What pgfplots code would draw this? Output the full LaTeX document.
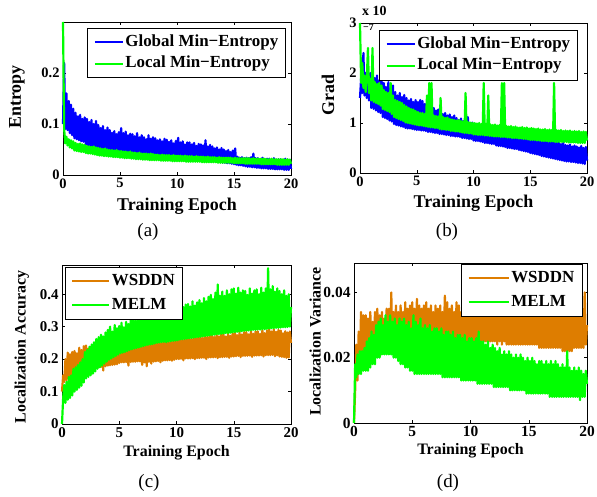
\documentclass[border=0pt]{standalone}
\usepackage{fontspec}
\setmainfont{Liberation Serif}
\usepackage{pgfplots}
\usepackage{pgfplotstable}
\pgfplotsset{compat=1.18}
\definecolor{morange}{RGB}{222,125,0}
\definecolor{mgreen}{RGB}{0,255,0}
\definecolor{mblue}{RGB}{0,0,255}

\pgfplotstableread[row sep=\\]{
b g\\
0.100 0.300\\ 0.220 0.090\\ 0.090 0.062\\ 0.160 0.075\\ 0.088 0.058\\ 0.145 0.070\\ 0.082 0.054\\ 0.138 0.068\\ 0.078 0.052\\ 0.130 0.066\\
0.072 0.048\\ 0.122 0.063\\ 0.070 0.047\\ 0.115 0.061\\ 0.068 0.046\\ 0.118 0.062\\ 0.066 0.045\\ 0.110 0.060\\ 0.065 0.045\\ 0.113 0.059\\
0.060 0.043\\ 0.110 0.057\\ 0.058 0.042\\ 0.104 0.056\\ 0.057 0.042\\ 0.108 0.055\\ 0.056 0.041\\ 0.100 0.056\\ 0.055 0.040\\ 0.106 0.054\\
0.053 0.039\\ 0.098 0.053\\ 0.052 0.038\\ 0.092 0.052\\ 0.051 0.038\\ 0.096 0.051\\ 0.050 0.037\\ 0.088 0.052\\ 0.050 0.037\\ 0.093 0.050\\
0.048 0.036\\ 0.088 0.049\\ 0.047 0.036\\ 0.083 0.049\\ 0.047 0.035\\ 0.086 0.048\\ 0.046 0.035\\ 0.080 0.049\\ 0.046 0.035\\ 0.084 0.047\\
0.044 0.034\\ 0.092 0.047\\ 0.043 0.034\\ 0.082 0.046\\ 0.043 0.033\\ 0.085 0.046\\ 0.042 0.033\\ 0.078 0.045\\ 0.042 0.033\\ 0.081 0.046\\
0.041 0.032\\ 0.080 0.044\\ 0.040 0.032\\ 0.076 0.044\\ 0.040 0.031\\ 0.082 0.043\\ 0.039 0.031\\ 0.074 0.044\\ 0.039 0.031\\ 0.078 0.042\\
0.038 0.030\\ 0.074 0.042\\ 0.038 0.030\\ 0.070 0.042\\ 0.037 0.030\\ 0.078 0.041\\ 0.037 0.029\\ 0.071 0.042\\ 0.037 0.029\\ 0.074 0.041\\
0.036 0.029\\ 0.072 0.040\\ 0.036 0.029\\ 0.068 0.040\\ 0.035 0.029\\ 0.070 0.039\\ 0.035 0.028\\ 0.066 0.040\\ 0.035 0.028\\ 0.071 0.039\\
0.034 0.028\\ 0.069 0.039\\ 0.034 0.028\\ 0.065 0.039\\ 0.034 0.028\\ 0.068 0.038\\ 0.033 0.027\\ 0.062 0.039\\ 0.033 0.027\\ 0.067 0.038\\
0.032 0.027\\ 0.073 0.038\\ 0.032 0.027\\ 0.064 0.038\\ 0.032 0.027\\ 0.066 0.037\\ 0.031 0.027\\ 0.060 0.038\\ 0.031 0.026\\ 0.064 0.037\\
0.030 0.026\\ 0.064 0.037\\ 0.030 0.026\\ 0.060 0.037\\ 0.030 0.026\\ 0.063 0.036\\ 0.029 0.026\\ 0.057 0.037\\ 0.029 0.026\\ 0.061 0.036\\
0.028 0.026\\ 0.060 0.036\\ 0.028 0.025\\ 0.058 0.036\\ 0.028 0.025\\ 0.068 0.035\\ 0.027 0.025\\ 0.056 0.036\\ 0.027 0.025\\ 0.059 0.035\\
0.026 0.025\\ 0.056 0.035\\ 0.026 0.025\\ 0.052 0.035\\ 0.026 0.025\\ 0.054 0.034\\ 0.025 0.024\\ 0.050 0.035\\ 0.025 0.024\\ 0.053 0.034\\
0.024 0.024\\ 0.050 0.034\\ 0.024 0.024\\ 0.047 0.034\\ 0.023 0.024\\ 0.049 0.034\\ 0.023 0.024\\ 0.045 0.034\\ 0.022 0.024\\ 0.048 0.033\\
0.021 0.023\\ 0.052 0.034\\ 0.020 0.023\\ 0.036 0.033\\ 0.019 0.023\\ 0.034 0.033\\ 0.019 0.023\\ 0.035 0.033\\ 0.018 0.023\\ 0.033 0.033\\
0.017 0.022\\ 0.034 0.033\\ 0.016 0.022\\ 0.033 0.033\\ 0.016 0.022\\ 0.035 0.032\\ 0.015 0.022\\ 0.042 0.033\\ 0.015 0.022\\ 0.033 0.032\\
0.014 0.022\\ 0.033 0.032\\ 0.014 0.022\\ 0.031 0.032\\ 0.013 0.021\\ 0.034 0.032\\ 0.013 0.021\\ 0.030 0.032\\ 0.013 0.021\\ 0.032 0.031\\
0.012 0.021\\ 0.032 0.031\\ 0.012 0.021\\ 0.030 0.032\\ 0.012 0.021\\ 0.033 0.031\\ 0.011 0.021\\ 0.030 0.031\\ 0.011 0.020\\ 0.031 0.031\\
0.011 0.020\\ 0.031 0.031\\ 0.011 0.020\\ 0.029 0.031\\ 0.010 0.020\\ 0.032 0.030\\ 0.010 0.020\\ 0.029 0.031\\ 0.010 0.020\\ 0.030 0.030\\
0.012 0.022\\
}\tA

\pgfplotstableread[row sep=\\]{
b g\\
1.50 3.00\\ 1.90 1.80\\ 1.60 2.20\\ 2.40 1.70\\ 1.55 1.95\\ 2.00 1.62\\ 1.50 1.90\\ 1.95 2.50\\ 1.45 1.60\\ 2.00 1.88\\
1.30 1.45\\ 1.98 2.50\\ 1.28 1.42\\ 1.90 1.82\\ 1.25 1.40\\ 1.95 1.78\\ 1.22 1.38\\ 1.85 1.80\\ 1.20 1.35\\ 1.88 1.75\\
1.12 1.28\\ 1.80 1.66\\ 1.10 1.26\\ 1.72 1.62\\ 1.08 1.24\\ 1.82 1.60\\ 1.05 1.22\\ 1.70 1.80\\ 1.03 1.18\\ 1.75 1.55\\
0.98 1.12\\ 1.62 1.46\\ 0.96 1.10\\ 1.55 1.44\\ 0.95 1.08\\ 1.60 1.42\\ 0.93 1.06\\ 1.52 1.40\\ 0.92 1.04\\ 1.56 1.36\\
0.90 1.01\\ 1.50 1.33\\ 0.89 1.00\\ 1.45 1.30\\ 0.89 0.99\\ 1.48 1.28\\ 0.88 0.98\\ 1.42 1.27\\ 0.87 0.97\\ 1.46 1.24\\
0.86 0.96\\ 1.42 1.22\\ 0.86 0.95\\ 1.46 1.20\\ 0.85 0.95\\ 1.44 1.20\\ 0.85 0.94\\ 1.38 1.18\\ 0.84 0.93\\ 1.40 1.55\\
0.82 0.92\\ 1.32 1.80\\ 0.82 0.91\\ 1.28 1.80\\ 0.81 0.91\\ 1.30 1.15\\ 0.80 0.90\\ 1.25 1.14\\ 0.80 0.90\\ 1.27 1.13\\
0.78 0.88\\ 1.22 1.50\\ 0.78 0.87\\ 1.18 1.12\\ 0.77 0.87\\ 1.20 1.10\\ 0.76 0.86\\ 1.15 1.11\\ 0.76 0.86\\ 1.17 1.08\\
0.74 0.84\\ 1.12 1.07\\ 0.74 0.84\\ 1.15 1.06\\ 0.73 0.83\\ 1.10 1.05\\ 0.73 0.83\\ 1.06 1.06\\ 0.72 0.82\\ 1.09 1.04\\
0.70 0.81\\ 1.04 1.03\\ 0.70 0.80\\ 1.02 1.60\\ 0.69 0.80\\ 1.12 1.02\\ 0.68 0.79\\ 1.00 1.01\\ 0.68 0.79\\ 1.01 1.00\\
0.65 0.77\\ 0.97 1.00\\ 0.64 0.77\\ 0.95 0.99\\ 0.64 0.76\\ 0.96 1.00\\ 0.63 0.76\\ 0.92 0.98\\ 0.62 0.76\\ 0.94 1.80\\
0.60 0.75\\ 0.91 0.98\\ 0.60 0.75\\ 0.89 1.55\\ 0.59 0.74\\ 0.90 0.97\\ 0.58 0.74\\ 0.87 0.96\\ 0.58 0.73\\ 0.89 0.97\\
0.55 0.73\\ 0.86 0.95\\ 0.54 0.73\\ 0.84 0.96\\ 0.54 0.72\\ 0.85 1.80\\ 0.53 0.72\\ 0.82 1.80\\ 0.52 0.72\\ 0.84 0.94\\
0.50 0.71\\ 0.81 0.93\\ 0.50 0.71\\ 0.79 0.94\\ 0.49 0.70\\ 0.80 0.92\\ 0.48 0.70\\ 0.77 0.93\\ 0.48 0.70\\ 0.79 0.91\\
0.46 0.69\\ 0.76 0.91\\ 0.45 0.69\\ 0.74 0.92\\ 0.44 0.68\\ 0.75 0.90\\ 0.43 0.68\\ 0.72 0.91\\ 0.42 0.67\\ 0.74 0.89\\
0.40 0.66\\ 0.71 0.90\\ 0.39 0.66\\ 0.69 0.89\\ 0.38 0.66\\ 0.70 0.88\\ 0.37 0.65\\ 0.66 0.89\\ 0.36 0.65\\ 0.69 0.87\\
0.34 0.64\\ 0.66 0.87\\ 0.33 0.64\\ 0.64 0.88\\ 0.32 0.64\\ 0.65 0.86\\ 0.31 0.63\\ 0.62 0.87\\ 0.30 0.63\\ 0.64 0.86\\
0.29 0.63\\ 0.61 1.80\\ 0.28 0.62\\ 0.60 0.86\\ 0.27 0.62\\ 0.62 0.85\\ 0.26 0.62\\ 0.58 0.86\\ 0.25 0.62\\ 0.60 0.84\\
0.24 0.62\\ 0.56 0.85\\ 0.23 0.62\\ 0.55 0.84\\ 0.23 0.61\\ 0.57 0.85\\ 0.22 0.61\\ 0.53 0.83\\ 0.22 0.61\\ 0.55 0.84\\
0.21 0.61\\ 0.53 0.83\\ 0.20 0.60\\ 0.51 0.84\\ 0.20 0.60\\ 0.54 0.82\\ 0.19 0.60\\ 0.50 0.83\\ 0.18 0.60\\ 0.52 0.82\\
0.25 0.65\\
}\tB

\pgfplotstableread[row sep=\\]{
o g\\
0.100 0.000\\ 0.150 0.080\\ 0.130 0.120\\ 0.200 0.065\\ 0.135 0.130\\ 0.220 0.075\\ 0.140 0.145\\ 0.215 0.080\\ 0.145 0.150\\ 0.222 0.088\\
0.150 0.170\\ 0.225 0.100\\ 0.152 0.175\\ 0.218 0.105\\ 0.155 0.182\\ 0.235 0.112\\ 0.158 0.190\\ 0.228 0.118\\ 0.160 0.200\\ 0.240 0.128\\
0.168 0.222\\ 0.242 0.140\\ 0.170 0.228\\ 0.232 0.145\\ 0.170 0.238\\ 0.238 0.150\\ 0.171 0.245\\ 0.230 0.155\\ 0.172 0.252\\ 0.236 0.162\\
0.174 0.262\\ 0.240 0.170\\ 0.175 0.268\\ 0.236 0.175\\ 0.176 0.275\\ 0.242 0.180\\ 0.165 0.270\\ 0.238 0.186\\ 0.178 0.282\\ 0.240 0.192\\
0.180 0.290\\ 0.245 0.198\\ 0.181 0.300\\ 0.240 0.202\\ 0.182 0.285\\ 0.248 0.206\\ 0.183 0.305\\ 0.242 0.210\\ 0.184 0.295\\ 0.246 0.214\\
0.188 0.302\\ 0.248 0.218\\ 0.190 0.312\\ 0.244 0.220\\ 0.190 0.298\\ 0.252 0.222\\ 0.191 0.315\\ 0.246 0.225\\ 0.180 0.308\\ 0.250 0.228\\
0.191 0.320\\ 0.250 0.230\\ 0.192 0.330\\ 0.245 0.232\\ 0.192 0.318\\ 0.252 0.234\\ 0.193 0.335\\ 0.247 0.236\\ 0.193 0.325\\ 0.251 0.238\\
0.182 0.340\\ 0.250 0.240\\ 0.190 0.345\\ 0.246 0.242\\ 0.178 0.332\\ 0.252 0.244\\ 0.192 0.350\\ 0.248 0.245\\ 0.186 0.338\\ 0.253 0.246\\
0.192 0.352\\ 0.254 0.248\\ 0.193 0.345\\ 0.248 0.250\\ 0.194 0.358\\ 0.256 0.251\\ 0.190 0.342\\ 0.250 0.252\\ 0.195 0.355\\ 0.255 0.253\\
0.196 0.360\\ 0.258 0.252\\ 0.196 0.348\\ 0.252 0.254\\ 0.197 0.362\\ 0.262 0.255\\ 0.195 0.350\\ 0.254 0.256\\ 0.198 0.358\\ 0.260 0.257\\
0.200 0.365\\ 0.265 0.258\\ 0.200 0.355\\ 0.258 0.260\\ 0.201 0.372\\ 0.268 0.261\\ 0.196 0.360\\ 0.260 0.262\\ 0.202 0.368\\ 0.266 0.263\\
0.202 0.370\\ 0.270 0.264\\ 0.202 0.362\\ 0.262 0.265\\ 0.203 0.378\\ 0.268 0.266\\ 0.200 0.365\\ 0.264 0.267\\ 0.203 0.375\\ 0.272 0.268\\
0.203 0.382\\ 0.272 0.269\\ 0.204 0.372\\ 0.265 0.270\\ 0.204 0.388\\ 0.275 0.271\\ 0.200 0.378\\ 0.268 0.272\\ 0.205 0.392\\ 0.274 0.273\\
0.205 0.398\\ 0.275 0.274\\ 0.205 0.385\\ 0.268 0.275\\ 0.206 0.405\\ 0.278 0.276\\ 0.203 0.430\\ 0.270 0.277\\ 0.206 0.395\\ 0.276 0.278\\
0.206 0.408\\ 0.278 0.279\\ 0.207 0.395\\ 0.270 0.280\\ 0.207 0.412\\ 0.280 0.280\\ 0.204 0.400\\ 0.272 0.281\\ 0.208 0.415\\ 0.279 0.282\\
0.208 0.418\\ 0.282 0.283\\ 0.209 0.402\\ 0.274 0.284\\ 0.210 0.420\\ 0.284 0.285\\ 0.206 0.405\\ 0.276 0.286\\ 0.210 0.412\\ 0.283 0.287\\
0.210 0.410\\ 0.284 0.288\\ 0.210 0.398\\ 0.276 0.288\\ 0.211 0.418\\ 0.286 0.289\\ 0.207 0.402\\ 0.278 0.290\\ 0.211 0.412\\ 0.285 0.290\\
0.211 0.415\\ 0.286 0.291\\ 0.211 0.400\\ 0.278 0.291\\ 0.212 0.420\\ 0.290 0.292\\ 0.208 0.405\\ 0.280 0.292\\ 0.212 0.418\\ 0.288 0.293\\
0.212 0.480\\ 0.295 0.294\\ 0.212 0.415\\ 0.285 0.295\\ 0.213 0.425\\ 0.292 0.295\\ 0.209 0.408\\ 0.284 0.296\\ 0.212 0.418\\ 0.290 0.296\\
0.208 0.410\\ 0.288 0.297\\ 0.207 0.400\\ 0.280 0.298\\ 0.206 0.412\\ 0.286 0.298\\ 0.204 0.395\\ 0.282 0.299\\ 0.205 0.400\\ 0.285 0.300\\
0.250 0.360\\
}\tC

\pgfplotstableread[row sep=\\]{
o g\\
0.000 0.000\\ 0.010 0.018\\ 0.024 0.014\\ 0.013 0.021\\ 0.028 0.015\\ 0.016 0.022\\ 0.034 0.015\\ 0.018 0.022\\ 0.033 0.016\\ 0.019 0.023\\
0.033 0.016\\ 0.020 0.025\\ 0.032 0.016\\ 0.020 0.026\\ 0.034 0.017\\ 0.021 0.028\\ 0.031 0.018\\ 0.021 0.027\\ 0.034 0.018\\ 0.021 0.030\\
0.035 0.020\\ 0.021 0.031\\ 0.033 0.020\\ 0.021 0.032\\ 0.034 0.021\\ 0.022 0.030\\ 0.032 0.021\\ 0.022 0.033\\ 0.035 0.021\\ 0.022 0.031\\
0.035 0.021\\ 0.022 0.033\\ 0.040 0.021\\ 0.022 0.031\\ 0.034 0.020\\ 0.022 0.032\\ 0.036 0.020\\ 0.023 0.030\\ 0.034 0.019\\ 0.023 0.032\\
0.036 0.018\\ 0.023 0.031\\ 0.034 0.018\\ 0.023 0.032\\ 0.037 0.017\\ 0.023 0.030\\ 0.035 0.017\\ 0.024 0.031\\ 0.036 0.016\\ 0.024 0.029\\
0.037 0.016\\ 0.024 0.033\\ 0.035 0.015\\ 0.024 0.031\\ 0.038 0.015\\ 0.024 0.030\\ 0.036 0.015\\ 0.025 0.032\\ 0.035 0.015\\ 0.025 0.029\\
0.036 0.015\\ 0.025 0.030\\ 0.037 0.015\\ 0.025 0.029\\ 0.035 0.015\\ 0.025 0.030\\ 0.036 0.015\\ 0.025 0.028\\ 0.034 0.015\\ 0.025 0.029\\
0.036 0.015\\ 0.025 0.029\\ 0.035 0.015\\ 0.025 0.028\\ 0.036 0.015\\ 0.025 0.029\\ 0.034 0.014\\ 0.025 0.027\\ 0.039 0.014\\ 0.025 0.028\\
0.037 0.014\\ 0.025 0.028\\ 0.035 0.014\\ 0.025 0.027\\ 0.036 0.014\\ 0.025 0.028\\ 0.034 0.014\\ 0.025 0.026\\ 0.037 0.014\\ 0.025 0.027\\
0.036 0.014\\ 0.025 0.027\\ 0.034 0.013\\ 0.025 0.026\\ 0.036 0.013\\ 0.025 0.027\\ 0.035 0.013\\ 0.025 0.025\\ 0.036 0.013\\ 0.025 0.026\\
0.036 0.013\\ 0.025 0.026\\ 0.035 0.013\\ 0.025 0.025\\ 0.036 0.013\\ 0.024 0.026\\ 0.034 0.012\\ 0.025 0.028\\ 0.036 0.012\\ 0.025 0.025\\
0.036 0.012\\ 0.025 0.025\\ 0.034 0.012\\ 0.025 0.024\\ 0.037 0.012\\ 0.024 0.025\\ 0.035 0.012\\ 0.025 0.023\\ 0.036 0.012\\ 0.025 0.024\\
0.036 0.011\\ 0.025 0.023\\ 0.034 0.011\\ 0.024 0.022\\ 0.036 0.011\\ 0.025 0.023\\ 0.035 0.011\\ 0.024 0.021\\ 0.036 0.011\\ 0.025 0.022\\
0.035 0.011\\ 0.024 0.021\\ 0.034 0.011\\ 0.024 0.022\\ 0.036 0.010\\ 0.024 0.021\\ 0.034 0.010\\ 0.024 0.020\\ 0.035 0.010\\ 0.024 0.021\\
0.035 0.010\\ 0.024 0.020\\ 0.034 0.010\\ 0.024 0.021\\ 0.036 0.010\\ 0.024 0.020\\ 0.034 0.010\\ 0.024 0.019\\ 0.035 0.009\\ 0.024 0.020\\
0.036 0.009\\ 0.024 0.019\\ 0.034 0.009\\ 0.024 0.020\\ 0.036 0.009\\ 0.024 0.019\\ 0.035 0.009\\ 0.024 0.018\\ 0.036 0.009\\ 0.023 0.019\\
0.035 0.009\\ 0.023 0.019\\ 0.034 0.009\\ 0.023 0.018\\ 0.036 0.009\\ 0.023 0.019\\ 0.034 0.009\\ 0.023 0.018\\ 0.035 0.008\\ 0.023 0.019\\
0.035 0.008\\ 0.023 0.018\\ 0.034 0.008\\ 0.023 0.019\\ 0.035 0.008\\ 0.023 0.018\\ 0.034 0.008\\ 0.023 0.017\\ 0.035 0.008\\ 0.022 0.018\\
0.035 0.008\\ 0.022 0.017\\ 0.034 0.008\\ 0.022 0.022\\ 0.035 0.008\\ 0.022 0.017\\ 0.034 0.008\\ 0.022 0.016\\ 0.035 0.008\\ 0.023 0.017\\
0.035 0.008\\ 0.023 0.016\\ 0.034 0.008\\ 0.023 0.017\\ 0.036 0.007\\ 0.023 0.016\\ 0.034 0.008\\ 0.023 0.015\\ 0.040 0.008\\ 0.024 0.016\\
0.030 0.012\\
}\tD

\pgfplotsset{
  mstyle/.style={
    scale only axis,
    anchor=south west,
    clip=false,
    xmin=0, xmax=20,
    xtick={0,5,10,15,20},
    xticklabels={\textbf{0},\textbf{5},\textbf{10},\textbf{15},\textbf{20}},
    scaled ticks=false,
    tick align=inside,
    major tick length=3bp,
    axis line style={line width=0.5pt},
    every tick/.style={black, line width=0.5pt},
    legend cell align=left,
    legend image code/.code={\draw[##1, line width=2.2pt] (0bp,0bp) -- (28bp,0bp);},
    legend style={draw=black, line width=0.5pt, fill=white,
      inner xsep=6bp, inner ysep=4.5bp, row sep=2.5bp,
      font=\fontsize{17}{19}\selectfont\bfseries,
      nodes={inner sep=1.5bp, text height=12bp, text depth=4bp}},
  },
  dline/.style={line width=2.2pt, line join=round, mark=none},
}

\begin{document}
\begin{tikzpicture}
\useasboundingbox (0,0) rectangle (597bp,497bp);

% (a)
\begin{axis}[mstyle,
  at={(63bp,322bp)}, width=228bp, height=153bp,
  ymin=0, ymax=0.3, ytick={0,0.1,0.2}, yticklabels={\textbf{0},\textbf{0.1},\textbf{0.2}},
  ticklabel style={font=\fontsize{14.5}{16}\selectfont\bfseries},
  label style={font=\fontsize{18}{20}\selectfont\bfseries},
  xlabel={Training Epoch}, ylabel={Entropy},
  xlabel style={at={(axis description cs:0.5,-0.235)}, anchor=base},
  ylabel style={at={(axis description cs:-0.2018,0.51)}, anchor=center},
  legend style={at={(0.978,0.961)}, anchor=north east},
]
\addplot[dline, mblue] table[x expr=\coordindex*0.1, y=b] {\tA};
\addplot[dline, mgreen] table[x expr=\coordindex*0.1, y=g] {\tA};
\legend{Global Min−Entropy, Local Min−Entropy}
\end{axis}

% (b)
\begin{axis}[mstyle,
  at={(360bp,324bp)}, width=227bp, height=150bp,
  ymin=0, ymax=3, ytick={0,1,2,3}, yticklabels={\textbf{0},\textbf{1},\textbf{2},\textbf{3}},
  ticklabel style={font=\fontsize{14.5}{16}\selectfont\bfseries},
  label style={font=\fontsize{18}{20}\selectfont\bfseries},
  xlabel={Training Epoch}, ylabel={Grad},
  xlabel style={at={(axis description cs:0.5,-0.233)}, anchor=base},
  ylabel style={at={(axis description cs:-0.141,0.52)}, anchor=center},
  legend style={at={(0.960,0.953)}, anchor=north east},
]
\addplot[dline, mblue] table[x expr=\coordindex*0.1, y=b] {\tB};
\addplot[dline, mgreen] table[x expr=\coordindex*0.1, y=g] {\tB};
\legend{Global Min−Entropy, Local Min−Entropy}
\end{axis}
\node[anchor=base west, font=\fontsize{14}{16}\selectfont\bfseries, inner sep=0pt] at (362bp,481bp) {x 10};
\node[anchor=base west, font=\fontsize{10}{12}\selectfont\bfseries, inner sep=0pt] at (363bp,466bp) {−7};

% (c)
\begin{axis}[mstyle,
  at={(62bp,73bp)}, width=229bp, height=159bp,
  ymin=0, ymax=0.49, ytick={0,0.1,0.2,0.3,0.4},
  yticklabels={\textbf{0},\textbf{0.1},\textbf{0.2},\textbf{0.3},\textbf{0.4}},
  ticklabel style={font=\fontsize{15}{16}\selectfont\bfseries},
  label style={font=\fontsize{16}{18}\selectfont\bfseries},
  xlabel={Training Epoch}, ylabel={Localization Accuracy},
  xlabel style={at={(axis description cs:0.5,-0.2075)}, anchor=base},
  ylabel style={at={(axis description cs:-0.175,0.484)}, anchor=center},
  legend image code/.code={\draw[#1, line width=2.2pt] (0bp,0bp) -- (37bp,0bp);},
  legend style={at={(0.013,0.987)}, anchor=north west, row sep=5bp},
]
\addplot[dline, morange] table[x expr=\coordindex*0.1, y=o] {\tC};
\addplot[dline, mgreen] table[x expr=\coordindex*0.1, y=g] {\tC};
\legend{WSDDN, MELM}
\end{axis}

% (d)
\begin{axis}[mstyle,
  at={(354bp,74bp)}, width=233bp, height=160bp,
  ymin=0, ymax=0.049, ytick={0,0.02,0.04}, yticklabels={\textbf{0},\textbf{0.02},\textbf{0.04}},
  ticklabel style={font=\fontsize{15.5}{16}\selectfont\bfseries},
  label style={font=\fontsize{16}{18}\selectfont\bfseries},
  xlabel={Training Epoch}, ylabel={Localization Variance},
  xlabel style={at={(axis description cs:0.5,-0.194)}, anchor=base},
  ylabel style={at={(axis description cs:-0.167,0.509)}, anchor=center},
  legend image code/.code={\draw[#1, line width=2.2pt] (0bp,0bp) -- (40bp,0bp);},
  legend style={at={(0.979,0.994)}, anchor=north east, row sep=5bp},
]
\addplot[dline, morange] table[x expr=\coordindex*0.1, y=o] {\tD};
\addplot[dline, mgreen] table[x expr=\coordindex*0.1, y=g] {\tD};
\legend{WSDDN, MELM}
\end{axis}

\node[anchor=base, font=\fontsize{19}{20}\selectfont] at (148bp,260bp) {(a)};
\node[anchor=base, font=\fontsize{19}{20}\selectfont] at (447bp,260bp) {(b)};
\node[anchor=base, font=\fontsize{19}{20}\selectfont] at (149bp,10bp) {(c)};
\node[anchor=base, font=\fontsize{19}{20}\selectfont] at (448bp,10bp) {(d)};
\end{tikzpicture}
\end{document}
